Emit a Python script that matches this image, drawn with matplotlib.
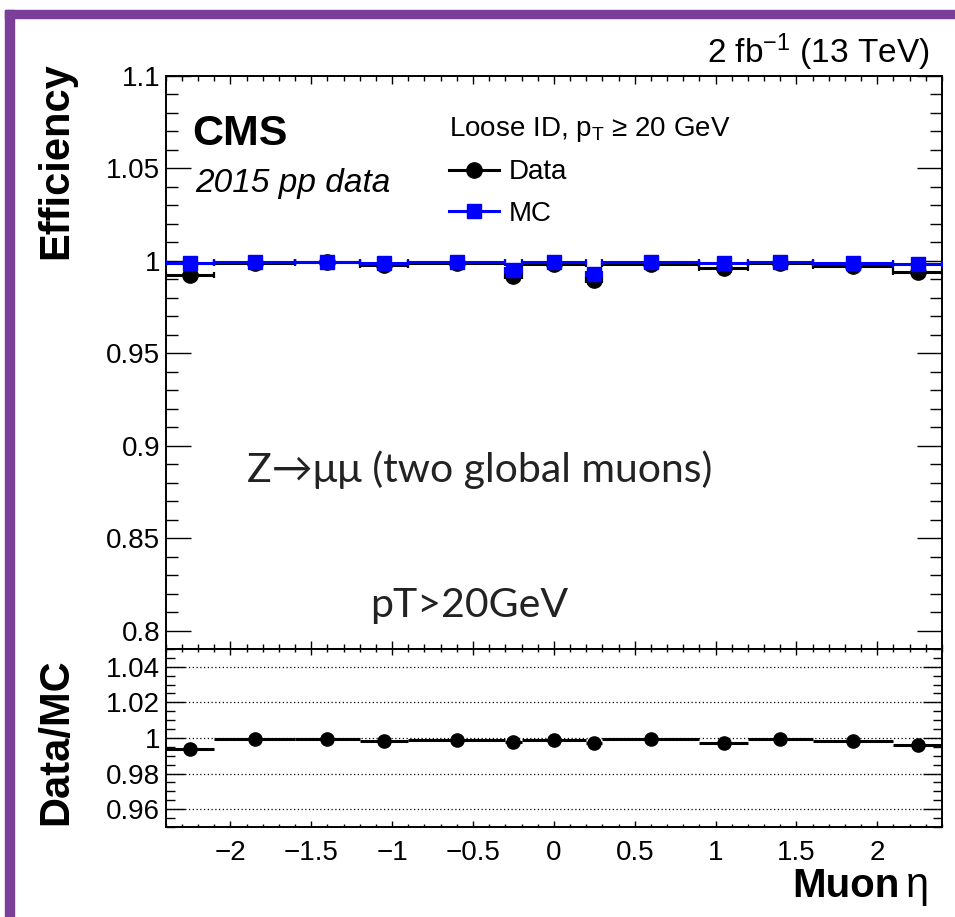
import matplotlib
matplotlib.use("Agg")
import matplotlib.pyplot as plt
from matplotlib.ticker import FixedLocator, FixedFormatter, MultipleLocator, NullFormatter
from matplotlib.lines import Line2D
from matplotlib.patches import Rectangle

# ---------------- data ----------------
eta_edges = [-2.4, -2.1, -1.6, -1.2, -0.9, -0.3, -0.2, 0.2, 0.3, 0.9, 1.2, 1.6, 2.1, 2.4]
eff_data = [0.9925, 0.9990, 0.9993, 0.9975, 0.9988, 0.9918, 0.9982, 0.9898, 0.9985, 0.9962, 0.9988, 0.9972, 0.9942]
eff_mc = [0.9988, 0.9993, 0.9995, 0.9988, 0.9993, 0.9950, 0.9993, 0.9930, 0.9993, 0.9987, 0.9993, 0.9988, 0.9985]
ratio = [0.9938, 0.9993, 0.9996, 0.9985, 0.9990, 0.9975, 0.9990, 0.9970, 0.9992, 0.9973, 0.9992, 0.9985, 0.9958]

eff_ticks = [0.8, 0.85, 0.9, 0.95, 1.0, 1.05, 1.1]
eff_ticklabels = ["0.8", "0.85", "0.9", "0.95", "1", "1.05", "1.1"]
ratio_ticks = [0.96, 0.98, 1.0, 1.02, 1.04]
ratio_ticklabels = ["0.96", "0.98", "1", "1.02", "1.04"]
eta_ticks = [-2, -1.5, -1, -0.5, 0, 0.5, 1, 1.5, 2]
eta_ticklabels = ["\u22122", "\u22121.5", "\u22121", "\u22120.5", "0", "0.5", "1", "1.5", "2"]

centers = [(a + b) / 2 for a, b in zip(eta_edges[:-1], eta_edges[1:])]
halfw = [(b - a) / 2 for a, b in zip(eta_edges[:-1], eta_edges[1:])]

# ---------------- style ----------------
plt.rcParams['font.family'] = ['Liberation Sans', 'DejaVu Sans']
plt.rcParams['mathtext.fontset'] = 'custom'
plt.rcParams['mathtext.rm'] = 'Liberation Sans'
plt.rcParams['mathtext.it'] = 'Liberation Sans:italic'
plt.rcParams['mathtext.bf'] = 'Liberation Sans:bold'

W, H = 955, 917
fig = plt.figure(figsize=(W / 100, H / 100), dpi=100)

def fx(x):
    return x / W

def fy(y):
    return 1 - y / H

# purple frame
purple = '#7b3f99'
fig.patches.append(Rectangle((fx(5), fy(18)), 1, 8 / H, transform=fig.transFigure,
                             color=purple, zorder=0))
fig.patches.append(Rectangle((fx(5), 0), 9 / W, fy(10), transform=fig.transFigure,
                             color=purple, zorder=0))

left, right = 165.7, 942
top1, bot1, bot2 = 76, 649, 827
ax1 = fig.add_axes([fx(left), fy(bot1), (right - left) / W, (bot1 - top1) / H])
ax2 = fig.add_axes([fx(left), fy(bot2), (right - left) / W, (bot2 - bot1) / H])

for ax in (ax1, ax2):
    ax.set_xlim(-2.4, 2.4)
    for s in ax.spines.values():
        s.set_linewidth(1.4)
    ax.xaxis.set_major_locator(FixedLocator(eta_ticks))
    ax.xaxis.set_minor_locator(MultipleLocator(0.1))
    ax.tick_params(which='both', direction='in', top=True, right=True, width=1.0, colors='black')

# ---------------- upper panel ----------------
ax1.set_ylim(0.79, 1.1)
ax1.yaxis.set_major_locator(FixedLocator(eff_ticks))
ax1.yaxis.set_major_formatter(FixedFormatter(eff_ticklabels))
ax1.yaxis.set_minor_locator(MultipleLocator(0.01))
ax1.xaxis.set_major_formatter(NullFormatter())
ax1.tick_params(axis='y', which='major', length=18, labelsize=20, pad=4)
ax1.tick_params(axis='y', which='minor', length=8.6)
ax1.tick_params(axis='x', which='major', length=6)
ax1.tick_params(axis='x', which='minor', length=3.4)

ax1.errorbar(centers, eff_data, xerr=halfw, fmt='o', color='black', ms=11,
             elinewidth=2.2, capsize=2.2, capthick=1.6, zorder=3)
ax1.errorbar(centers, eff_mc, xerr=halfw, fmt='s', color='#0000ff', ms=10.5,
             elinewidth=2.2, capsize=2.5, capthick=1.6, zorder=4)

fig.text(fx(56), fy(62), "Efficiency", rotation=90, ha='center', va='top',
         fontsize=30, fontweight='bold')

fig.text(fx(930), fy(63), "2 fb$^{\\mathregular{-1}}$ (13 TeV)", ha='right', va='baseline', fontsize=24)
fig.text(fx(192), fy(145), "CMS", ha='left', va='baseline', fontsize=31, fontweight='bold')
fig.text(fx(195), fy(192), "2015 pp data", ha='left', va='baseline', fontsize=24, style='italic')

handles = [Line2D([], [], color='black', marker='o', ms=11, lw=2.2),
           Line2D([], [], color='#0000ff', marker='s', ms=10.5, lw=2.2)]
leg = ax1.legend(handles, ["Data", "MC"], loc='upper left',
                 bbox_to_anchor=(fx(449), fy(115)), bbox_transform=fig.transFigure,
                 frameon=False, fontsize=20, handlelength=1.8, handletextpad=0.35,
                 labelspacing=0.55, borderpad=0, borderaxespad=0,
                 title="Loose ID, $\\mathregular{p_{T}}$ \u2265 20 GeV", title_fontsize=20,
                 alignment='left')

fig.text(fx(247), fy(470), "Z\u2192\u03bc\u03bc (two global muons)", ha='left', va='center',
         fontsize=29.5, color='#222222', family=['Lato', 'DejaVu Sans'])
fig.text(fx(370), fy(605), "pT>20GeV", ha='left', va='center',
         fontsize=29.5, color='#222222', family=['Lato', 'DejaVu Sans'])

# ---------------- ratio panel ----------------
ax2.set_ylim(0.95, 1.05)
ax2.yaxis.set_major_locator(FixedLocator(ratio_ticks))
ax2.yaxis.set_major_formatter(FixedFormatter(ratio_ticklabels))
ax2.yaxis.set_minor_locator(MultipleLocator(0.005))
ax2.xaxis.set_major_formatter(FixedFormatter(eta_ticklabels))
ax2.tick_params(axis='y', which='major', length=13.7, labelsize=20, pad=4)
ax2.tick_params(axis='y', which='minor', length=6.5)
ax2.tick_params(axis='x', which='major', length=4.5, labelsize=20, pad=9)
ax2.tick_params(axis='x', which='minor', length=2.2)
ax2.grid(axis='y', which='major', linestyle=(0, (1, 2)), color='black', lw=0.9)

ax2.errorbar(centers, ratio, xerr=halfw, fmt='o', color='black', ms=9.5,
             elinewidth=2.2, capsize=0, zorder=3)

fig.text(fx(56), fy(742), "Data/MC", rotation=90, ha='center', va='center',
         fontsize=30, fontweight='bold')

fig.text(fx(900), fy(897), "Muon", ha='right', va='baseline', fontsize=29, fontweight='bold')
fig.text(fx(906), fy(897), "\u03b7", ha='left', va='baseline', fontsize=30)

fig.savefig("out.png", dpi=100)
